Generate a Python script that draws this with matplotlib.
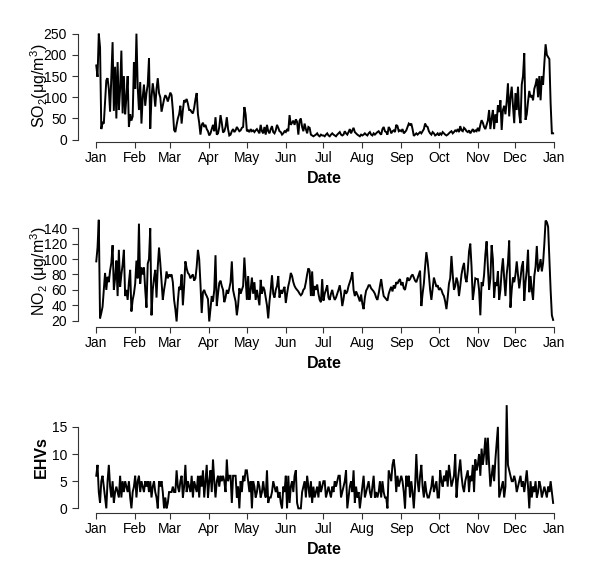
import numpy as np
import pandas as pd
import matplotlib
matplotlib.use("Agg")
import matplotlib.pyplot as plt
import matplotlib.dates as mdates

plt.rcParams["font.family"] = ["Liberation Sans", "DejaVu Sans"]
plt.rcParams["mathtext.fontset"] = "custom"
plt.rcParams["mathtext.rm"] = "Liberation Sans"
plt.rcParams["mathtext.it"] = "Liberation Sans:italic"
plt.rcParams["mathtext.bf"] = "Liberation Sans:bold"

# daily values, one line per month
so2 = [
    175, 148, 250, 218, 25, 40, 38, 90, 140, 145, 120, 66, 150, 230, 68, 172, 50, 183, 70, 120, 210, 62, 150, 60, 100, 150, 30, 60, 45, 55, 183,
    120, 250, 125, 70, 136, 38, 100, 130, 80, 110, 130, 192, 26, 100, 133, 110, 78, 120, 145, 110, 100, 66, 80, 95, 105, 100, 90, 100,
    111, 105, 70, 23, 18, 35, 50, 60, 80, 38, 70, 93, 90, 96, 85, 70, 70, 65, 62, 75, 95, 110, 60, 40, 12, 35, 40, 30, 35, 25, 20,
    10, 15, 25, 35, 20, 53, 12, 15, 30, 58, 40, 17, 20, 30, 53, 25, 10, 12, 20, 25, 18, 22, 30, 25, 20, 22, 28, 30, 77, 60,
    20, 22, 18, 25, 20, 22, 18, 22, 25, 20, 15, 35, 20, 15, 30, 12, 35, 20, 15, 25, 32, 18, 15, 22, 35, 28, 20, 18, 12, 15, 20,
    18, 25, 20, 58, 35, 40, 45, 35, 48, 42, 12, 45, 50, 30, 20, 38, 25, 15, 30, 28, 12, 10, 8, 10, 12, 15, 10, 8, 12, 10,
    10, 8, 12, 15, 10, 8, 12, 15, 12, 10, 8, 12, 15, 18, 12, 10, 12, 20, 15, 12, 18, 25, 15, 22, 28, 18, 15, 12, 10, 8, 12,
    10, 12, 15, 12, 10, 15, 18, 12, 10, 15, 12, 15, 18, 20, 15, 12, 25, 30, 20, 18, 12, 30, 25, 15, 20, 22, 18, 35, 32, 20, 22,
    20, 25, 15, 18, 22, 30, 38, 35, 38, 25, 9, 12, 15, 12, 15, 18, 15, 20, 25, 38, 32, 30, 20, 15, 12, 18, 15, 10, 12, 15,
    10, 15, 12, 18, 15, 12, 10, 12, 15, 18, 20, 15, 18, 22, 20, 25, 18, 32, 22, 20, 28, 25, 20, 18, 22, 15, 20, 25, 18, 22, 20,
    28, 20, 35, 46, 40, 30, 25, 35, 45, 70, 25, 50, 70, 25, 60, 40, 81, 65, 93, 23, 70, 80, 60, 90, 133, 55, 100, 125, 80, 39,
    110, 70, 125, 60, 39, 130, 150, 204, 47, 60, 90, 115, 100, 105, 93, 120, 130, 144, 100, 150, 93, 150, 130, 180, 225, 200, 195, 190, 86, 15, 15,
]

no2 = [
    97, 115, 151, 23, 30, 38, 60, 82, 60, 77, 70, 85, 95, 118, 60, 75, 98, 52, 112, 64, 80, 93, 112, 52, 60, 47, 70, 86, 32, 47, 55,
    68, 98, 75, 146, 68, 89, 80, 89, 60, 37, 94, 100, 140, 27, 60, 75, 86, 50, 90, 115, 95, 72, 47, 60, 70, 84, 75, 80,
    78, 80, 70, 47, 35, 19, 45, 64, 60, 80, 40, 65, 97, 88, 82, 80, 75, 78, 80, 72, 75, 90, 112, 100, 68, 30, 57, 60, 55, 52, 48,
    19, 35, 52, 45, 60, 105, 39, 55, 69, 72, 65, 60, 44, 50, 60, 55, 62, 70, 97, 60, 52, 45, 27, 40, 62, 55, 60, 65, 102, 75,
    47, 78, 47, 60, 76, 55, 70, 47, 60, 50, 40, 73, 55, 64, 60, 50, 40, 23, 45, 60, 79, 55, 50, 60, 65, 78, 50, 60, 55, 60, 64,
    43, 55, 65, 72, 82, 78, 70, 65, 62, 60, 58, 55, 53, 55, 60, 62, 70, 80, 88, 85, 52, 84, 52, 65, 60, 67, 55, 47, 44, 74,
    46, 55, 60, 66, 50, 47, 55, 60, 52, 47, 50, 55, 60, 66, 55, 39, 48, 60, 55, 58, 65, 70, 75, 83, 60, 52, 58, 54, 50, 45, 54,
    42, 35, 50, 59, 62, 66, 66, 62, 60, 58, 55, 50, 47, 55, 65, 74, 62, 52, 50, 48, 46, 55, 60, 64, 58, 66, 62, 70, 68, 72, 74,
    66, 70, 62, 60, 68, 76, 72, 74, 78, 80, 76, 72, 70, 75, 80, 85, 39, 55, 68, 90, 109, 97, 80, 60, 47, 62, 76, 70, 64, 66,
    60, 62, 60, 55, 52, 45, 35, 50, 68, 75, 104, 80, 60, 65, 76, 70, 52, 65, 80, 89, 95, 76, 70, 85, 110, 120, 90, 47, 60, 75, 74,
    74, 60, 27, 70, 65, 80, 106, 123, 90, 60, 75, 118, 100, 50, 70, 65, 84, 47, 60, 85, 101, 75, 52, 80, 95, 124, 37, 60, 76, 70,
    80, 97, 80, 62, 75, 90, 97, 46, 70, 85, 112, 57, 78, 60, 47, 78, 90, 117, 84, 90, 100, 84, 95, 120, 150, 148, 142, 100, 60, 27, 21,
]

ehvs = [
    6, 8, 3, 1, 5, 6, 4, 2, 0, 5, 8, 4, 2, 5, 1, 3, 4, 3, 2, 6, 2, 5, 3, 5, 4, 3, 5, 2, 0, 3, 4,
    6, 2, 5, 6, 3, 5, 4, 3, 5, 4, 5, 3, 5, 2, 4, 5, 3, 2, 0, 5, 4, 5, 3, 0, 2, 0, 1, 3,
    3, 3, 4, 3, 3, 7, 4, 3, 5, 6, 2, 4, 8, 3, 5, 4, 3, 6, 2, 5, 4, 3, 6, 2, 6, 4, 7, 2, 5, 8, 2,
    5, 7, 3, 9, 5, 2, 5, 6, 4, 6, 5, 6, 5, 3, 9, 5, 6, 6, 1, 6, 6, 6, 2, 4, 0, 5, 3, 6, 5, 7,
    7, 5, 3, 5, 0, 5, 4, 2, 3, 5, 4, 2, 3, 5, 3, 2, 7, 1, 2, 2, 3, 5, 4, 3, 4, 2, 3, 1, 0, 4, 3,
    6, 0, 6, 1, 4, 5, 3, 6, 7, 1, 0, 0, 0, 3, 4, 5, 2, 6, 4, 2, 5, 1, 4, 2, 3, 4, 2, 5, 3, 4,
    5, 5, 2, 3, 4, 3, 2, 4, 3, 5, 4, 5, 6, 6, 2, 3, 4, 5, 7, 0, 2, 4, 5, 3, 7, 1, 4, 2, 3, 0, 2,
    4, 6, 2, 3, 4, 5, 3, 2, 4, 6, 2, 3, 2, 3, 5, 2, 5, 3, 2, 2, 0, 7, 6, 5, 8, 9, 7, 3, 6, 4, 5,
    6, 5, 3, 0, 6, 4, 6, 2, 5, 3, 0, 4, 10, 5, 3, 6, 8, 4, 2, 5, 3, 2, 2, 3, 4, 6, 3, 4, 5, 2,
    2, 7, 5, 4, 6, 5, 7, 4, 8, 6, 4, 5, 6, 10, 2, 5, 7, 9, 6, 4, 3, 5, 6, 7, 3, 6, 5, 8, 3, 9, 7,
    8, 10, 6, 11, 8, 10, 13, 8, 13, 8, 4, 6, 8, 5, 9, 12, 15, 2, 3, 4, 5, 2, 4, 19, 8, 7, 6, 5, 5, 6,
    5, 3, 4, 5, 6, 4, 5, 3, 5, 7, 4, 0, 5, 2, 4, 3, 5, 2, 3, 5, 4, 2, 3, 4, 3, 2, 4, 3, 5, 3, 1,
]

dates = pd.date_range("2009-01-01", periods=365, freq="D")
month_starts = pd.date_range("2009-01-01", "2010-01-01", freq="MS")
month_labels = [d.strftime("%b") for d in month_starts]

so2_ticks = [0, 50, 100, 150, 200, 250]
no2_ticks = [20, 40, 60, 80, 100, 120, 140]
ehv_ticks = [0, 5, 10, 15]

W, H = 600, 585
fig = plt.figure(figsize=(6, 5.85), dpi=100)

x = mdates.date2num(dates)
xt = mdates.date2num(month_starts)
pad = 0.04 * (x[-1] - x[0])
left, right = 78.0, 571.4

panels = [
    (so2, so2_ticks, (-4.7, 259.8), r"SO$_2$(μg/m$^3$)", "normal", (29.5, 141.7)),
    (no2, no2_ticks, (12.2, 155.3), r"NO$_2$ (μg/m$^3$)", "normal", (216.5, 326.7)),
    (ehvs, ehv_ticks, (-0.8, 19.8), "EHVs", "bold", (400.8, 512.7)),
]

for vals, yt, ylim, ylab, wt, (top, bot) in panels:
    ax = fig.add_axes([left / W, 1 - bot / H, (right - left) / W, (bot - top) / H])
    ax.plot(x, vals, color="black", lw=1.4, solid_joinstyle="miter")
    ax.set_xlim(x[0] - pad, x[-1] + pad)
    ax.set_ylim(*ylim)
    ax.set_xticks(xt)
    ax.set_xticklabels(month_labels)
    ax.set_yticks(yt)
    for s in ["top", "right"]:
        ax.spines[s].set_visible(False)
    ax.spines["left"].set_bounds(yt[0], yt[-1])
    ax.spines["bottom"].set_bounds(xt[0], xt[-1])
    for s in ["left", "bottom"]:
        ax.spines[s].set_linewidth(0.8)
        ax.spines[s].set_color("#333333")
    ax.tick_params(axis="x", length=4, width=0.8, pad=3, labelsize=10, color="#333333")
    ax.tick_params(axis="y", length=4.5, width=0.8, pad=3.5, labelsize=10, color="#333333")
    fig.text(45.5 / W, 1 - (top + bot) / 2 / H, ylab, rotation=90, rotation_mode="anchor",
             ha="center", va="baseline", fontsize=11.5, fontweight=wt)
    fig.text((left + right) / 2 / W, 1 - (bot + 41.3) / H, "Date",
             ha="center", va="baseline", fontsize=11.5, fontweight="bold")

fig.savefig("out.png", dpi=100)
